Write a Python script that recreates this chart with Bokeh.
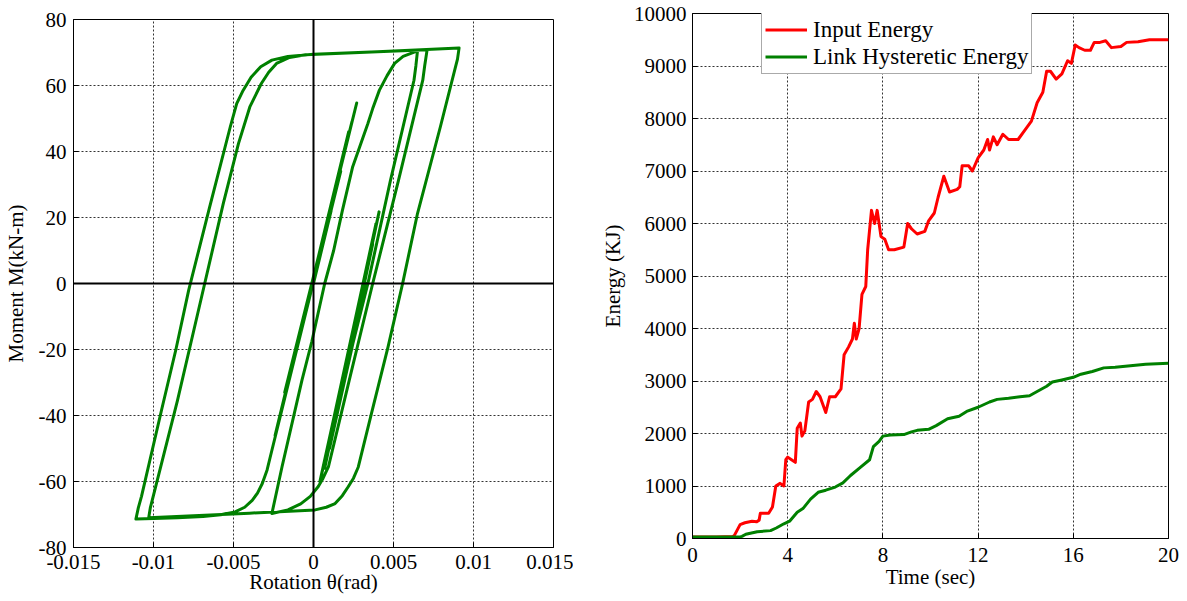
from bokeh.plotting import figure
from bokeh.layouts import row, column
from bokeh.models import FixedTicker, PrintfTickFormatter, Span, Legend, LegendItem
from bokeh.embed import file_html
from bokeh.resources import INLINE

# ---------------- Data: link hysteresis (rotation rad, moment kN-m) ----------------
branch_a_theta = [0.0, 0.0011, -0.0006, 0.0018, -0.0012, 0.0024, -0.0018, 0.0027, -0.0020, 0.0022, -0.0024, 0.0017, -0.0027]
branch_a_moment = [0.0, 22.0, -10.0, 38.0, -22.0, 49.0, -33.0, 54.7, -38.0, 46.0, -46.0, 34.0, -52.5]

branch_b_theta = [-0.0029, -0.0032, -0.0035, -0.00383, -0.0043, -0.0049, -0.0058, -0.0069, -0.0085, -0.0100, -0.0111]
branch_b_moment = [-56.5, -60.6, -63.5, -65.7, -67.8, -69.2, -70.1, -70.6, -71.0, -71.2, -71.4]

branch_c_theta = [-0.01095, -0.01075, -0.0095, -0.0086, -0.0078, -0.0065, -0.0052, -0.0048, -0.0044, -0.0039, -0.0033, -0.0026, -0.0016, 0.0, 0.004, 0.0091]
branch_c_moment = [-68.0, -64.5, -38.4, -20.0, -2.0, 23.0, 47.5, 54.5, 58.5, 62.5, 65.7, 67.7, 68.8, 69.5, 70.2, 71.4]

branch_d_theta = [0.0090, 0.00888, 0.00793, 0.0065, 0.00557, 0.00466, 0.00362, 0.0028, 0.0025, 0.00217, 0.0018, 0.00135, 0.0008, 0.0001, -0.004, -0.0103]
branch_d_moment = [68.0, 65.7, 47.5, 21.2, 0.0, -19.2, -39.4, -55.6, -59.0, -61.6, -64.3, -66.7, -67.8, -68.6, -69.6, -71.0]

branch_e_theta = [-0.0102, -0.0085, -0.0068, -0.00564, -0.00469, -0.00398, -0.00326, -0.0028, -0.00231, -0.0015, -0.0005, 0.004, 0.0071]
branch_e_moment = [-68.0, -35.4, 0.0, 24.2, 42.4, 53.5, 60.6, 64.0, 66.7, 68.5, 69.3, 70.2, 70.8]

branch_f_theta = [0.00695, 0.00683, 0.0053, 0.0037, 0.0023, 0.00093, 0.0006, 0.0003, -0.0002, -0.0008, -0.0016, -0.0026]
branch_f_moment = [66.0, 61.6, 31.0, 0.0, -28.0, -55.6, -59.0, -61.5, -64.5, -66.8, -68.6, -69.7]

branch_g_theta = [-0.00197, -0.00072, -0.0001, 0.0007, 0.00126, 0.0018, 0.00245, 0.0034, 0.0037, 0.00412, 0.0046, 0.00507, 0.0056, 0.0065]
branch_g_moment = [-55.6, -29.3, -17.5, 0.0, 10.0, 22.0, 35.4, 48.5, 53.0, 58.6, 63.0, 66.7, 68.8, 70.5]

branch_h_theta = [0.0064, 0.00628, 0.0048, 0.0034, 0.0018, 0.0004]
branch_h_moment = [66.0, 61.6, 31.0, 0.0, -31.0, -60.0]

branch_i_theta = [0.0041, 0.0007, 0.0039, 0.0005, 0.0037, 0.0010, 0.0033]
branch_i_moment = [21.7, -56.0, 18.0, -58.0, 12.0, -50.0, 0.0]

# ---------------- Data: energy time histories ----------------
input_time = [0.0, 1.0, 1.7, 1.76, 2.0, 2.2, 2.5, 2.7, 2.8, 2.85, 3.2, 3.36, 3.5, 3.68, 3.84, 3.92, 4.0, 4.16,
              4.32, 4.4, 4.53, 4.6, 4.72, 4.88, 5.04, 5.2, 5.36, 5.6, 5.76, 6.0, 6.24, 6.37, 6.56, 6.72, 6.8,
              6.88, 7.0, 7.12, 7.28, 7.36, 7.52, 7.65, 7.76, 7.92, 8.08, 8.24, 8.48, 8.88, 9.04, 9.2, 9.44,
              9.76, 9.92, 10.16, 10.32, 10.56, 10.8, 11.12, 11.23, 11.33, 11.6, 11.76, 12.0, 12.24, 12.4,
              12.48, 12.64, 12.8, 13.04, 13.28, 13.68, 13.92, 14.24, 14.48, 14.72, 14.88, 15.04, 15.28,
              15.52, 15.76, 15.92, 16.08, 16.24, 16.48, 16.72, 16.88, 17.12, 17.36, 17.6, 18.0, 18.24,
              18.72, 19.2, 20.0]
input_energy = [30, 30, 40, 60, 265, 300, 330, 320, 350, 480, 480, 600, 1000, 1050, 1000, 1500, 1550, 1500,
                1450, 2100, 2200, 1950, 2050, 2600, 2650, 2800, 2700, 2400, 2700, 2700, 2850, 3500, 3650, 3800, 4100,
                3800, 4000, 4650, 4800, 5500, 6250, 6000, 6250, 5750, 5700, 5500, 5500, 5550, 6000, 5900, 5800,
                5850, 6050, 6200, 6500, 6900, 6600, 6650, 6700, 7100, 7100, 7000, 7250, 7400, 7600,
                7400, 7650, 7500, 7700, 7600, 7600, 7750, 7950, 8300, 8500, 8900, 8900, 8750,
                8850, 9100, 9050, 9400, 9350, 9300, 9300, 9450, 9450, 9480, 9350, 9370, 9450,
                9460, 9500, 9500]

hyst_time = [0.0, 1.0, 2.0, 2.08, 2.24, 2.72, 3.28, 3.52, 3.84, 4.08, 4.4, 4.64, 4.96, 5.28, 5.6, 6.0, 6.32,
             6.64, 7.04, 7.44, 7.6, 7.84, 8.0, 8.32, 8.88, 9.2, 9.44, 9.92, 10.24, 10.72, 11.2, 11.52, 12.0,
             12.48, 12.8, 13.28, 13.76, 14.16, 14.48, 14.88, 15.12, 15.52, 16.0, 16.32, 16.8, 17.28, 17.76,
             18.4, 19.04, 20.0]
hyst_energy = [30, 30, 30, 40, 80, 130, 150, 200, 280, 330, 500, 570, 750, 880, 920, 980, 1060,
               1200, 1350, 1500, 1750, 1850, 1950, 1970, 1980, 2030, 2060, 2080, 2150, 2280, 2330, 2420, 2500,
               2600, 2650, 2670, 2700, 2720, 2800, 2900, 2980, 3020, 3070, 3130, 3180, 3250, 3260,
               3290, 3320, 3340]

rot_ticks = [-0.015, -0.01, -0.005, 0.0, 0.005, 0.01, 0.015]
mom_ticks = [-80, -60, -40, -20, 0, 20, 40, 60, 80]
time_ticks = [0, 4, 8, 12, 16, 20]
energy_ticks = [0, 1000, 2000, 3000, 4000, 5000, 6000, 7000, 8000, 9000, 10000]

SERIF = "Liberation Serif"
GREEN = "#008000"
RED = "#ff0000"


def style(p, xt, yt):
    axes = list(p.xaxis) + list(p.yaxis)
    for ax, ticks in zip(axes, (xt, yt)):
        ax.ticker = FixedTicker(ticks=ticks)
        ax.formatter = PrintfTickFormatter(format="%g")
        ax.major_label_text_font = SERIF
        ax.major_label_text_font_size = "21px"
        ax.major_label_text_color = "black"
        ax.axis_label_text_font = SERIF
        ax.axis_label_text_font_size = "21px"
        ax.axis_label_text_font_style = "normal"
        ax.axis_label_text_color = "black"
        ax.axis_line_color = "black"
        ax.major_tick_in = 5
        ax.major_tick_out = 0
        ax.major_tick_line_color = "black"
        ax.minor_tick_line_color = None
    grids = list(p.xgrid) + list(p.ygrid)
    for g, ticks in zip(grids, (xt, yt)):
        g.ticker = FixedTicker(ticks=ticks)
        g.grid_line_color = "#333333"
        g.grid_line_dash = "2 2"
        g.grid_line_width = 1
    p.outline_line_color = "black"
    p.outline_line_width = 1
    p.background_fill_color = "white"
    p.border_fill_color = "white"


# ---------------- Left: hysteresis ----------------
p1 = figure(width=573, height=600, x_range=(-0.015, 0.015), y_range=(-80, 80),
            output_backend="svg", toolbar_location=None,
            min_border_left=72, min_border_right=20, min_border_top=19, min_border_bottom=53)
style(p1, rot_ticks, mom_ticks)
p1.xaxis[0].axis_label = "Rotation θ(rad)"
p1.yaxis[0].axis_label = "Moment M(kN-m)"
p1.xaxis[0].major_label_standoff = 7
p1.xaxis[0].axis_label_standoff = -2
p1.yaxis[0].major_label_standoff = 7
p1.yaxis[0].axis_label_standoff = 8

branches = [
    (branch_a_theta, branch_a_moment),
    (branch_b_theta, branch_b_moment),
    (branch_c_theta, branch_c_moment),
    (branch_d_theta, branch_d_moment),
    (branch_e_theta, branch_e_moment),
    (branch_f_theta, branch_f_moment),
    (branch_g_theta, branch_g_moment),
    (branch_h_theta, branch_h_moment),
    (branch_i_theta, branch_i_moment),
]
path_theta = []
path_moment = []
for bt, bm in branches:
    path_theta.extend(bt)
    path_moment.extend(bm)

p1.line(path_theta, path_moment, line_color=GREEN, line_width=3, line_join="round", line_cap="round")
p1.add_layout(Span(location=0, dimension="width", line_color="black", line_width=2))
p1.add_layout(Span(location=0, dimension="height", line_color="black", line_width=2))

# ---------------- Right: energy ----------------
p2 = figure(width=607, height=600, x_range=(0, 20), y_range=(0, 10000),
            output_backend="svg", toolbar_location=None,
            min_border_left=119, min_border_right=12, min_border_top=13, min_border_bottom=62)
style(p2, time_ticks, energy_ticks)
p2.xaxis[0].axis_label = "Time (sec)"
p2.yaxis[0].axis_label = "Energy (KJ)"
p2.xaxis[0].major_label_standoff = 9
p2.xaxis[0].axis_label_standoff = 0
p2.yaxis[0].major_label_standoff = 6
p2.yaxis[0].axis_label_standoff = 6

r_in = p2.line(input_time, input_energy, line_color=RED, line_width=3, line_join="round")
r_hy = p2.line(hyst_time, hyst_energy, line_color=GREEN, line_width=3, line_join="round")

legend = Legend(items=[LegendItem(label="Input Energy", renderers=[r_in]),
                       LegendItem(label="Link Hysteretic Energy", renderers=[r_hy])],
                location=(69, 464))
legend.label_text_font = SERIF
legend.label_text_font_size = "23px"
legend.label_text_color = "black"
legend.glyph_width = 42
legend.glyph_height = 27
legend.label_height = 27
legend.label_standoff = 6
legend.spacing = 0
legend.padding = 3
legend.margin = 0
legend.border_line_color = "#555555"
legend.border_line_width = 1
legend.background_fill_color = "white"
legend.background_fill_alpha = 1
p2.add_layout(legend)

layout = row(column(p1), column(p2))
open("out.html", "w").write(file_html(layout, INLINE))
